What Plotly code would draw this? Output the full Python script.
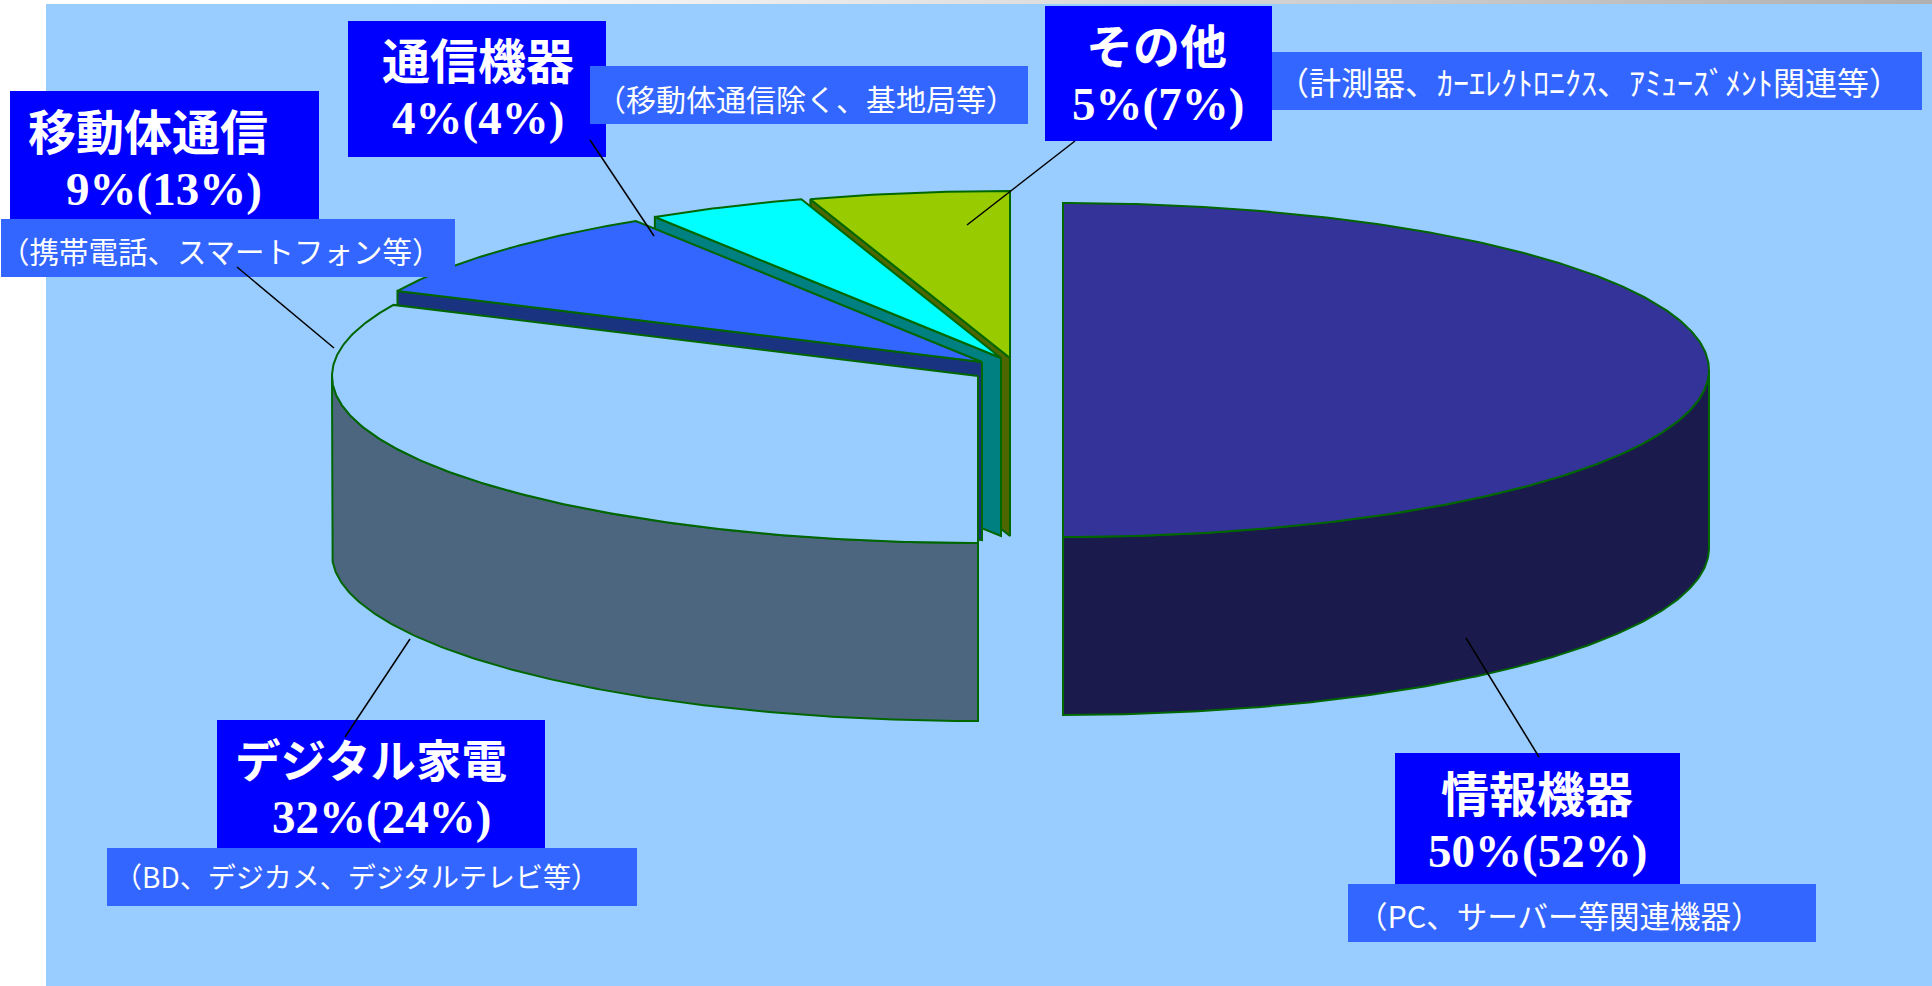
import numpy as np
import plotly.graph_objects as go

# Shipment shares by application (%), with the previous-period share in brackets
categories = ["情報機器", "デジタル家電", "移動体通信", "通信機器", "その他"]
shares = [50, 32, 9, 4, 5]
prior_shares = [52, 24, 13, 4, 7]
details = [
    "（PC、サーバー等関連機器）",
    "（BD、デジカメ、デジタルテレビ等）",
    "（携帯電話、スマートフォン等）",
    "（移動体通信除く、基地局等）",
    "（計測器、ｶｰｴﾚｸﾄﾛﾆｸｽ、ｱﾐｭｰｽﾞﾒﾝﾄ関連等）",
]

W, H = 1932, 986
BACKGROUND = "#99CCFF"
EDGE = "#006600"
RX, RY, DEPTH = 646, 167, 178

top_colors = ["#333399", "#99CCFF", "#3366FF", "#00FFFF", "#99CC00"]
side_colors = ["#1A1A4D", "#4D6680", "#1A3380", "#008080", "#4D6600"]
# Exploded slice centres on the page
centres = [(1063, 370), (978, 376), (982, 362), (1001, 358), (1010, 358)]

# Label panels: heading box and detail box (x0, y0, x1, y1)
head_boxes = [(1395, 753, 1680, 884), (217, 720, 545, 848), (10, 91, 319, 220),
              (348, 21, 606, 157), (1045, 6, 1272, 141)]
detail_boxes = [(1348, 884, 1816, 942), (107, 848, 637, 906), (1, 219, 455, 277),
                (590, 66, 1028, 124), (1272, 52, 1922, 110)]
# Text anchors: heading, value and detail centres
head_pos = [(1537, 791), (371, 758), (148, 129), (478, 58), (1156, 43)]
value_pos = [(1537, 851), (381, 817), (164, 189), (478, 118), (1158, 104)]
detail_pos = [(1559, 915), (356, 876), (221, 250), (806, 98), (1589, 81)]
head_sizes = [48, 45.5, 48, 48, 47]
detail_sizes = [30.5, 28, 29.5, 30, 32]
leaders = [((1466, 638), (1539, 757)), ((410, 639), (345, 737)), ((237, 267), (334, 348)),
           ((590, 140), (654, 236)), ((1075, 141), (967, 225))]


def rim(cx, cy, t0, t1, drop=0.0):
    """Points on a slice rim between two clockwise-from-top angles in degrees."""
    t = np.radians(np.linspace(t0, t1, max(2, int(abs(t1 - t0) * 2))))
    return cx + RX * np.sin(t), cy - RY * np.cos(t) + drop


def polygon(x, y, fill):
    return go.Scatter(x=x, y=y, mode="lines", fill="toself", fillcolor=fill,
                      line=dict(color=EDGE, width=2), hoverinfo="skip", showlegend=False)


edges = np.concatenate([[0], np.cumsum(shares)]) * 3.6
fig = go.Figure()

# Band across the top of the page
strip = np.linspace(0, 1, 200)
fig.add_trace(go.Heatmap(x=strip * W, y=[1, 3], z=[strip, strip], showscale=False, hoverinfo="skip",
                         colorscale=[[0, "#FFFFFF"], [0.2, "#FFFFFF"], [1, "#B0B0B0"]]))

# Painted back to front so nearer slices cover the faces behind them
for i in reversed(range(len(shares))):
    cx, cy = centres[i]
    t0, t1 = edges[i], edges[i + 1]
    side = side_colors[i]

    # Radial face at the start of the slice
    xr, yr = rim(cx, cy, t0, t0)
    fig.add_trace(polygon([cx, xr[0], xr[0], cx, cx],
                          [cy, yr[0], yr[0] + DEPTH, cy + DEPTH, cy], side))

    # Outer wall on the near half of the ellipse
    lo, hi = max(t0, 90), min(t1, 270)
    if hi > lo:
        xa, ya = rim(cx, cy, lo, hi)
        xb, yb = rim(cx, cy, hi, lo, DEPTH)
        fig.add_trace(polygon(np.r_[xa, xb, xa[0]], np.r_[ya, yb, ya[0]], side))

    # Top surface
    xa, ya = rim(cx, cy, t0, t1)
    fig.add_trace(polygon(np.r_[cx, xa, cx], np.r_[cy, ya, cy], top_colors[i]))

# Panels and leader lines sit over the slices
shapes = [dict(type="rect", xref="x", yref="y", x0=0, y0=0, x1=46, y1=H,
               fillcolor="#FFFFFF", line_width=0, layer="below"),
          dict(type="rect", xref="x", yref="y", x0=46, y0=4, x1=W, y1=H,
               fillcolor=BACKGROUND, line_width=0, layer="below")]
for box in head_boxes:
    shapes.append(dict(type="rect", xref="x", yref="y", x0=box[0], y0=box[1], x1=box[2], y1=box[3],
                       fillcolor="#0000FF", line_width=0, layer="above"))
for box in detail_boxes:
    shapes.append(dict(type="rect", xref="x", yref="y", x0=box[0], y0=box[1], x1=box[2], y1=box[3],
                       fillcolor="#3366FF", line_width=0, layer="above"))
for a, b in leaders:
    shapes.append(dict(type="line", xref="x", yref="y", x0=a[0], y0=a[1], x1=b[0], y1=b[1],
                       line=dict(color="#000000", width=1.5), layer="above"))

annotations = []


def label(pos, text, font):
    annotations.append(dict(x=pos[0], y=pos[1], xref="x", yref="y", text=text, showarrow=False,
                            xanchor="center", yanchor="middle", font=font))


JP = "Noto Sans CJK JP"
for i, name in enumerate(categories):
    label(head_pos[i], f"<b>{name}</b>", dict(family=JP, size=head_sizes[i], color="#FFFFFF"))
    label(value_pos[i], f"<b>{shares[i]}%({prior_shares[i]}%)</b>",
          dict(family="Liberation Serif", size=47, color="#FFFFFF"))
    label(detail_pos[i], details[i], dict(family=JP, size=detail_sizes[i], color="#FFFFFF"))

fig.update_layout(
    width=W, height=H, margin=dict(l=0, r=0, t=0, b=0), autosize=False,
    paper_bgcolor="#FFFFFF", plot_bgcolor="rgba(0,0,0,0)", showlegend=False,
    xaxis=dict(range=[0, W], visible=False, fixedrange=True),
    yaxis=dict(range=[H, 0], visible=False, fixedrange=True),
    shapes=shapes, annotations=annotations,
)
fig.write_html("out.html", config=dict(displayModeBar=False))
